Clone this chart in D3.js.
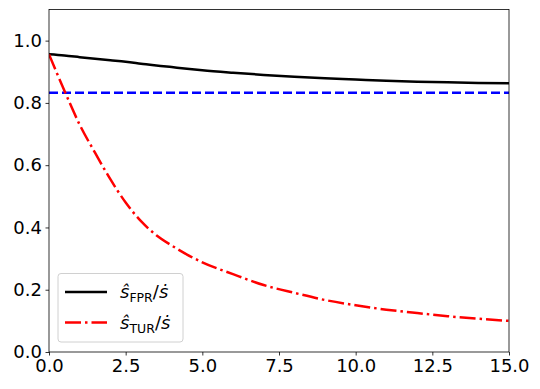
<!DOCTYPE html>
<html>
<head>
<meta charset="utf-8">
<script src="https://cdn.jsdelivr.net/npm/d3@7"></script>
<style>
  body { margin: 0; background: #fff; }
  text { font-family: "DejaVu Sans", sans-serif; }
</style>
</head>
<body>
<div id="chart"></div>
<script>
// data
var xs      = [0, 0.5, 1, 1.5, 2, 2.5, 3, 3.5, 4, 4.5, 5, 6, 7, 8, 9, 10, 11, 12, 13, 14, 15];
var fprVals = [0.956, 0.952, 0.947, 0.942, 0.937, 0.932, 0.926, 0.920, 0.915, 0.910, 0.905, 0.897, 0.890, 0.884, 0.879, 0.875, 0.871, 0.868, 0.866, 0.864, 0.863];
var turVals = [0.956, 0.84, 0.73, 0.64, 0.555, 0.48, 0.42, 0.375, 0.342, 0.313, 0.288, 0.25, 0.215, 0.19, 0.167, 0.15, 0.136, 0.125, 0.115, 0.107, 0.100];
var refLevel = 0.833;
var xTicks = [0, 2.5, 5, 7.5, 10, 12.5, 15];
var yTicks = [0, 0.2, 0.4, 0.6, 0.8, 1.0];

var W = 540, H = 389;
var margin = { top: 9.5, right: 31, bottom: 37, left: 49 };
var width = W - margin.left - margin.right,
    height = H - margin.top - margin.bottom;

var svg = d3.select("#chart").append("svg")
    .attr("width", W)
    .attr("height", H);

var g = svg.append("g")
    .attr("transform", "translate(" + margin.left + "," + margin.top + ")");

// scales
var x = d3.scaleLinear().domain([0, 15]).range([0, width]);
var y = d3.scaleLinear().domain([0, 1.1]).range([height, 0]);

// clip
svg.append("defs").append("clipPath").attr("id", "clip")
    .append("rect").attr("width", width).attr("height", height);

var plot = g.append("g").attr("clip-path", "url(#clip)");

var line = d3.line()
    .x(function(d){ return x(d[0]); })
    .y(function(d){ return y(d[1]); })
    .curve(d3.curveMonotoneX);

var fpr = xs.map(function(v, i){ return [v, fprVals[i]]; });
var tur = xs.map(function(v, i){ return [v, turVals[i]]; });

plot.append("path")
    .datum(fpr)
    .attr("d", line)
    .attr("fill", "none")
    .attr("stroke", "#000")
    .attr("stroke-width", 2.5);

plot.append("path")
    .datum([[0, refLevel], [15, refLevel]])
    .attr("d", line)
    .attr("fill", "none")
    .attr("stroke", "#0000ff")
    .attr("stroke-width", 2.5)
    .attr("stroke-dasharray", "9,4");

plot.append("path")
    .datum(tur)
    .attr("d", line)
    .attr("fill", "none")
    .attr("stroke", "#ff0000")
    .attr("stroke-width", 2.5)
    .attr("stroke-dasharray", "16,4,2.5,4");

// axes
var xAxis = d3.axisBottom(x).tickValues(xTicks).tickFormat(d3.format(".1f")).tickSize(3.5).tickPadding(3.5);
var yAxis = d3.axisLeft(y).tickValues(yTicks).tickFormat(d3.format(".1f")).tickSize(3.5).tickPadding(3.5);

var gX = g.append("g")
    .attr("transform", "translate(0," + height + ")")
    .call(xAxis);
var gY = g.append("g").call(yAxis);

[gX, gY].forEach(function(ax){
    ax.select(".domain").remove();
    ax.selectAll("line").attr("stroke", "#000").attr("stroke-width", 0.8);
    ax.selectAll("text")
        .attr("fill", "#000")
        .style("font-size", "18px")
        .style("font-family", "'DejaVu Sans', sans-serif");
});

// frame
g.append("rect")
    .attr("width", width)
    .attr("height", height)
    .attr("fill", "none")
    .attr("stroke", "#000")
    .attr("stroke-width", 0.8);

// legend
var legend = g.append("g").attr("transform", "translate(9,264)");
legend.append("rect")
    .attr("width", 125).attr("height", 68.5)
    .attr("rx", 3).attr("ry", 3)
    .attr("fill", "#fff").attr("fill-opacity", 0.8)
    .attr("stroke", "#d0d0d0").attr("stroke-width", 1);

var items = [
    { sub: "FPR", color: "#000", dash: null },
    { sub: "TUR", color: "#ff0000", dash: "16,4,2.5,4" }
];

items.forEach(function(it, i){
    var cy = 18.5 + i * 30.5;
    legend.append("line")
        .attr("x1", 7).attr("x2", 49)
        .attr("y1", cy).attr("y2", cy)
        .attr("stroke", it.color)
        .attr("stroke-width", 2.5)
        .attr("stroke-dasharray", it.dash);
    var t = legend.append("text")
        .attr("x", 62).attr("y", cy + 6)
        .style("font-size", "18px")
        .attr("fill", "#000");
    t.append("tspan").style("font-style", "italic").text("\u015D");
    t.append("tspan").attr("dy", 4).style("font-size", "12.5px").text(it.sub);
    t.append("tspan").attr("dy", -4).text("/");
    t.append("tspan").style("font-style", "italic").text("\u1E61");
});
</script>
</body>
</html>
